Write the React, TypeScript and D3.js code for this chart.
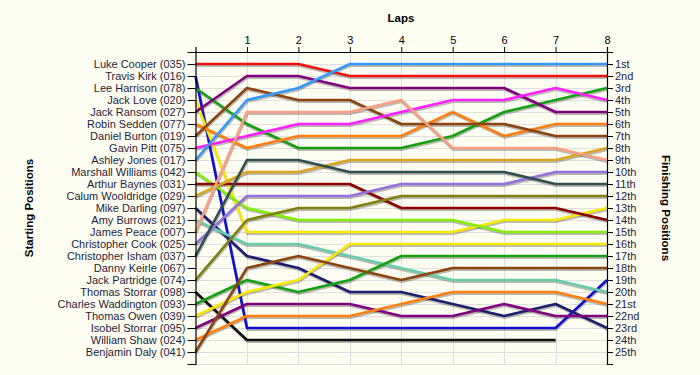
import React, { useEffect, useRef } from "react";
import * as d3 from "d3";

const laps = [0, 1, 2, 3, 4, 5, 6, 7, 8];
const drivers = [
  "Luke Cooper (035)", "Travis Kirk (016)", "Lee Harrison (078)", "Jack Love (020)",
  "Jack Ransom (027)", "Robin Sedden (077)", "Daniel Burton (019)", "Gavin Pitt (075)",
  "Ashley Jones (017)", "Marshall Williams (042)", "Arthur Baynes (031)", "Calum Wooldridge (029)",
  "Mike Darling (097)", "Amy Burrows (021)", "James Peace (007)", "Christopher Cook (025)",
  "Christopher Isham (037)", "Danny Keirle (067)", "Jack Partridge (074)", "Thomas Storrar (098)",
  "Charles Waddington (093)", "Thomas Owen (039)", "Isobel Storrar (095)", "William Shaw (024)",
  "Benjamin Daly (041)",
];
// position of each driver at lap 0..n (shorter arrays = retired)
const positions: number[][] = [
  [1, 1, 1, 2, 2, 2, 2, 2, 2],
  [2, 23, 23, 23, 23, 23, 23, 23, 19],
  [3, 6, 8, 8, 8, 7, 5, 4, 3],
  [4, 15, 15, 15, 15, 15, 14, 14, 13],
  [5, 2, 2, 3, 3, 3, 3, 5, 5],
  [6, 8, 7, 7, 7, 5, 7, 6, 6],
  [7, 3, 4, 4, 6, 6, 6, 7, 7],
  [8, 7, 6, 6, 5, 4, 4, 3, 4],
  [9, 4, 3, 1, 1, 1, 1, 1, 1],
  [10, 13, 14, 14, 14, 14, 15, 15, 15],
  [11, 11, 11, 11, 13, 13, 13, 13, 14],
  [12, 10, 10, 9, 9, 9, 9, 9, 8],
  [13, 17, 18, 20, 20, 21, 22, 21, 23],
  [14, 16, 16, 17, 18, 19, 19, 19, 20],
  [15, 5, 5, 5, 4, 8, 8, 8, 9],
  [16, 12, 12, 12, 11, 11, 11, 10, 10],
  [17, 9, 9, 10, 10, 10, 10, 11, 11],
  [18],
  [19, 14, 13, 13, 12, 12, 12, 12, 12],
  [20, 24, 24, 24, 24, 24, 24, 24],
  [21, 19, 20, 19, 17, 17, 17, 17, 17],
  [22, 20, 19, 16, 16, 16, 16, 16, 16],
  [23, 21, 21, 21, 22, 22, 21, 22, 22],
  [24, 22, 22, 22, 21, 20, 20, 20, 21],
  [25, 18, 17, 18, 19, 18, 18, 18, 18],
];
const finishLabels = [
  "1st", "2nd", "3rd", "4th", "5th", "6th", "7th", "8th", "9th", "10th", "11th", "12th", "13th",
  "14th", "15th", "16th", "17th", "18th", "19th", "20th", "21st", "22nd", "23rd", "24th", "25th",
];

const colors = [
  "#F01010", "#1010D0", "#14A014", "#F8E800", "#800080", "#FF8010", "#8B4513", "#FF20FF",
  "#3399FF", "#80F000", "#8B0000", "#DAA520", "#1E1E6E", "#66CDAA", "#F8A080", "#9370DB",
  "#2F4F4F", "#808000", "#808010", "#101010", "#14A014", "#F8E800", "#800080", "#FF8010",
  "#8B4513",
];

const W = 700, H = 375;
const FONT = "'Liberation Sans', Arial, sans-serif";

export default function App() {
  const ref = useRef<SVGSVGElement>(null);
  useEffect(() => {
    const svg = d3.select(ref.current);
    svg.selectAll("*").remove();
    const x = d3.scaleLinear().domain([0, 8]).range([195.5, 607]);
    const y = d3.scaleLinear().domain([0, 26]).range([52, 364]);

    svg.append("rect").attr("width", W).attr("height", H).attr("fill", "#FEFDF2");

    const grid = svg.append("g").attr("stroke", "#E0E0E0").attr("stroke-width", 1);
    d3.range(1, 27).forEach((p) => {
      grid.append("line").attr("x1", x(0)).attr("x2", x(8)).attr("y1", Math.round(y(p)) + 0.5).attr("y2", Math.round(y(p)) + 0.5);
    });
    d3.range(1, 8).forEach((l) => {
      grid.append("line").attr("y1", y(0)).attr("y2", y(26)).attr("x1", Math.round(x(l)) + 0.5).attr("x2", Math.round(x(l)) + 0.5);
    });

    const line = d3.line<number>().x((_, i) => x(laps[i])).y((d) => y(d));

    const shadows = svg.append("g").attr("transform", "translate(0.5,1.5)");
    const lines = svg.append("g");
    positions.forEach((pos) => {
      if (pos.length < 2) return;
      shadows.append("path").attr("d", line(pos)).attr("fill", "none")
        .attr("stroke", "rgba(60,60,60,0.35)").attr("stroke-width", 3).attr("stroke-linejoin", "round");
    });
    positions.forEach((pos, i) => {
      if (pos.length < 2) return;
      lines.append("path").attr("d", line(pos)).attr("fill", "none")
        .attr("stroke", colors[i]).attr("stroke-width", 2.6).attr("stroke-linejoin", "round");
    });

    const posTicks = d3.range(1, 26);
    const leftAxis = d3.axisLeft(y).tickValues(posTicks).tickSize(8).tickPadding(2)
      .tickFormat((d) => drivers[(d as number) - 1]);
    const gl = svg.append("g").attr("transform", `translate(${x(0)},0)`).call(leftAxis);
    const rightAxis = d3.axisRight(y).tickValues(posTicks).tickSize(6).tickPadding(2)
      .tickFormat((d) => finishLabels[(d as number) - 1]);
    const gr = svg.append("g").attr("transform", `translate(${x(8)},0)`).call(rightAxis);
    const topAxis = d3.axisTop(x).tickValues([1, 2, 3, 4, 5, 6, 7, 8]).tickSize(5).tickPadding(3)
      .tickFormat(d3.format("d"));
    const gt = svg.append("g").attr("transform", `translate(0,${y(0)})`).call(topAxis);

    [gl, gr, gt].forEach((g) => {
      g.selectAll("text").attr("font-family", FONT).attr("font-size", 11).attr("fill", "#1E1E3C");
      g.selectAll("line").attr("stroke", "#000");
      g.select(".domain").attr("stroke", "#000").attr("stroke-width", 1.2);
    });
    gt.selectAll("text").attr("fill", "#000");

    svg.append("text").attr("x", 401).attr("y", 22).attr("text-anchor", "middle")
      .attr("font-family", FONT).attr("font-size", 11.5).attr("font-weight", "bold").text("Laps");
    svg.append("text").attr("transform", "translate(33,208) rotate(-90)").attr("text-anchor", "middle")
      .attr("font-family", FONT).attr("font-size", 11.5).attr("font-weight", "bold").text("Starting Positions");
    svg.append("text").attr("transform", "translate(662,208) rotate(90)").attr("text-anchor", "middle")
      .attr("font-family", FONT).attr("font-size", 11.5).attr("font-weight", "bold").text("Finishing Positions");
  }, []);
  return (
    <svg ref={ref} width={W} height={H} style={{ position: "absolute", left: 0, top: 0, display: "block" }} />
  );
}
